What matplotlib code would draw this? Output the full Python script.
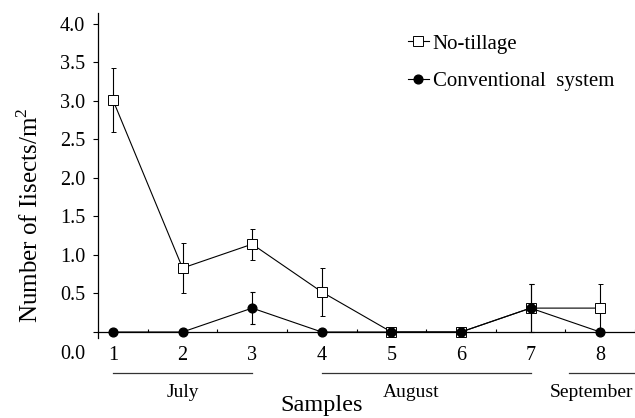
import matplotlib.pyplot as plt
import matplotlib.transforms as mtransforms

plt.rcParams["font.family"] = ["Liberation Serif", "DejaVu Serif"]
plt.rcParams["mathtext.fontset"] = "custom"
plt.rcParams["mathtext.rm"] = "Liberation Serif"

samples = [1, 2, 3, 4, 5, 6, 7, 8]
no_tillage = [3.01, 0.83, 1.14, 0.52, 0.0, 0.0, 0.31, 0.31]
no_tillage_err = [0.42, 0.32, 0.20, 0.31, 0.0, 0.0, 0.31, 0.31]
conventional = [0.0, 0.0, 0.31, 0.0, 0.0, 0.0, 0.31, 0.0]
conventional_err = [0.0, 0.0, 0.21, 0.0, 0.0, 0.0, 0.31, 0.0]

yticks = [0.0, 0.5, 1.0, 1.5, 2.0, 2.5, 3.0, 3.5, 4.0]
months = ["July", "August", "September"]
month_start = [1, 4, 7.55]
month_end = [3, 7, 8.5]
month_label_x = [2, 5.28, 7.88]

fig = plt.figure(figsize=(6.35, 4.18), dpi=100)
ax = fig.add_axes([0.1543, 0.191, 0.8457, 0.778])

nt = ax.errorbar(samples, no_tillage, yerr=no_tillage_err, color="black", lw=0.8,
                 elinewidth=0.8, capsize=1.8, capthick=0.8, marker="s", ms=6.5,
                 mfc="white", mec="black", mew=0.7, zorder=3)
cs = ax.errorbar(samples, conventional, yerr=conventional_err, color="black", lw=0.8,
                 elinewidth=0.8, capsize=1.8, capthick=0.8, marker="o", ms=6.3,
                 mfc="black", mec="black", zorder=4)

ax.set_xlim(0.785, 8.5)
ax.set_ylim(-0.08, 4.14)
ax.spines["top"].set_visible(False)
ax.spines["right"].set_visible(False)
ax.spines["bottom"].set_position(("data", 0))
ax.spines["left"].set_linewidth(0.9)
ax.spines["bottom"].set_linewidth(0.9)

ax.set_yticks(yticks)
ax.set_yticklabels(["%.1f" % v for v in yticks])
ax.tick_params(axis="y", direction="out", length=3.6, width=0.8, pad=5.5, labelsize=14.5)
# the 0.0 label sits below the axis line
lbl0 = ax.get_yticklabels()[0]
lbl0.set_transform(lbl0.get_transform() +
                   mtransforms.ScaledTranslation(0, -0.2, fig.dpi_scale_trans))

ax.set_xticks(samples)
ax.set_xticks([s + 0.5 for s in samples], minor=True)
ax.tick_params(axis="x", which="major", length=0, pad=10, labelsize=14.5)
ax.tick_params(axis="x", which="minor", direction="in", length=2.5, width=0.8)

trans = mtransforms.blended_transform_factory(ax.transData, ax.transAxes)
for m, x0, x1, xl in zip(months, month_start, month_end, month_label_x):
    ax.plot([x0, x1], [-0.108, -0.108], color="#333333", lw=0.9,
            transform=trans, clip_on=False)
    ax.text(xl, -0.168, m, transform=trans, ha="center", va="center", fontsize=14)

ax.set_xlabel("Samples", fontsize=17.5)
ax.xaxis.set_label_coords(0.417, -0.176)
ax.set_ylabel(r"Number of Iisects/m$^\mathregular{2}$", fontsize=18)
ax.yaxis.set_label_coords(-0.102, 0.378)

ax.legend(handles=[nt[0], cs[0]], labels=["No-tillage", "Conventional  system"],
          loc="upper left", bbox_to_anchor=(0.577, 0.935), frameon=False,
          fontsize=15, handlelength=1.0, handletextpad=0.2, labelspacing=0.85,
          borderpad=0, borderaxespad=0)

fig.savefig("out.png", dpi=100)
